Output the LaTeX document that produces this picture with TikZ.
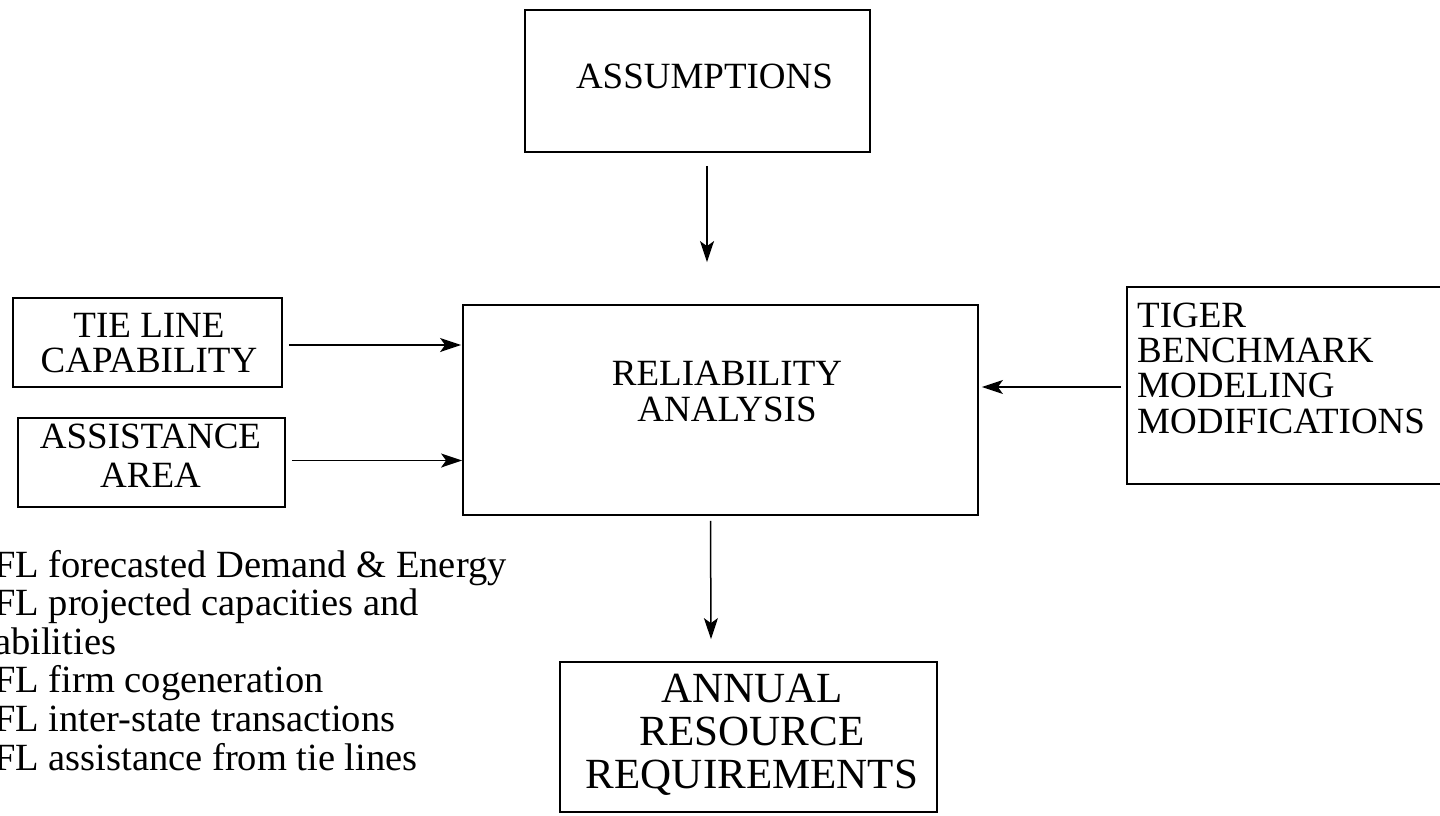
\documentclass[tikz,border=0pt]{standalone}
\usepackage{fontspec}
\setmainfont{Liberation Serif}
\usetikzlibrary{arrows.meta,calc}
\begin{document}
\begin{tikzpicture}[x=1pt,y=-1pt,
  box/.style={draw, line width=1.8pt, rectangle, inner sep=0pt},
  lbl/.style={inner sep=0pt, align=center, font=\fontsize{37}{36}\selectfont},
  arr/.style={line width=1.5pt, -{Stealth[length=21pt,width=14pt,inset=5pt]}}]
\clip (0,0) rectangle (1440,815);
\fill[white] (0,0) rectangle (1440,815);

% boxes
\node[box, minimum width=345pt, minimum height=142pt] (asm) at (697.5,81) {};
\node[box, minimum width=515pt, minimum height=210pt] (rel) at (720.5,410) {};
\node[box, minimum width=269pt, minimum height=89pt] (tie) at (147.5,342.5) {};
\node[box, minimum width=267pt, minimum height=89pt] (asst) at (151.5,462.5) {};
\node[box, minimum width=333pt, minimum height=197pt] (tiger) at (1293.5,385.5) {};
\node[box, minimum width=377pt, minimum height=150pt] (ann) at (748.5,737) {};

% box texts (base = baseline of the last line)
\node[lbl, anchor=base] (asmt) at (704.5,88) {ASSUMPTIONS};
\node[lbl, anchor=base] (relt) at (727,421) {RELIABILITY\\ANALYSIS};
\node[lbl, anchor=base, font=\fontsize{37}{35}\selectfont] (tiet) at (149,372) {TIE LINE\\CAPABILITY};
\node[lbl, anchor=base, font=\fontsize{37}{39}\selectfont] (asstt) at (150.5,487) {ASSISTANCE\\AREA};
\node[lbl, anchor=base west, align=left, font=\fontsize{37}{35.3}\selectfont] (tigert) at (1137,433)
  {TIGER\\BENCHMARK\\MODELING\\MODIFICATIONS};
\node[lbl, anchor=base, font=\fontsize{43}{43}\selectfont] (annt) at (752,788)
  {ANNUAL\\RESOURCE\\REQUIREMENTS};

% list of inputs
\node[lbl, anchor=base west, align=left, font=\fontsize{38.5}{38.6}\selectfont] (notes) at (-6,770)
  {FL forecasted Demand \& Energy\\FL projected capacities and\\abilities\\FL firm cogeneration\\FL inter-state transactions\\FL assistance from tie lines};

% connectors
\draw[arr] ($(asm.south)+(9.5,13)$) -- ($(rel.north)+(-13.5,-42)$);
\draw[arr] ($(tie.east)+(6,2.5)$) -- ($(tie.east -| rel.west)+(-1,2.5)$);
\draw[arr] ($(asst.east)+(6,-2)$) -- ($(asst.east -| rel.west)+(0,-2)$);
\draw[arr] ($(tiger.west)+(-5,1.5)$) -- ($(tiger.west -| rel.east)+(3,1.5)$);
\draw[arr] ($(rel.south)+(-10,5)$) -- ($(ann.north)+(-37.5,-22)$);
\end{tikzpicture}
\end{document}
